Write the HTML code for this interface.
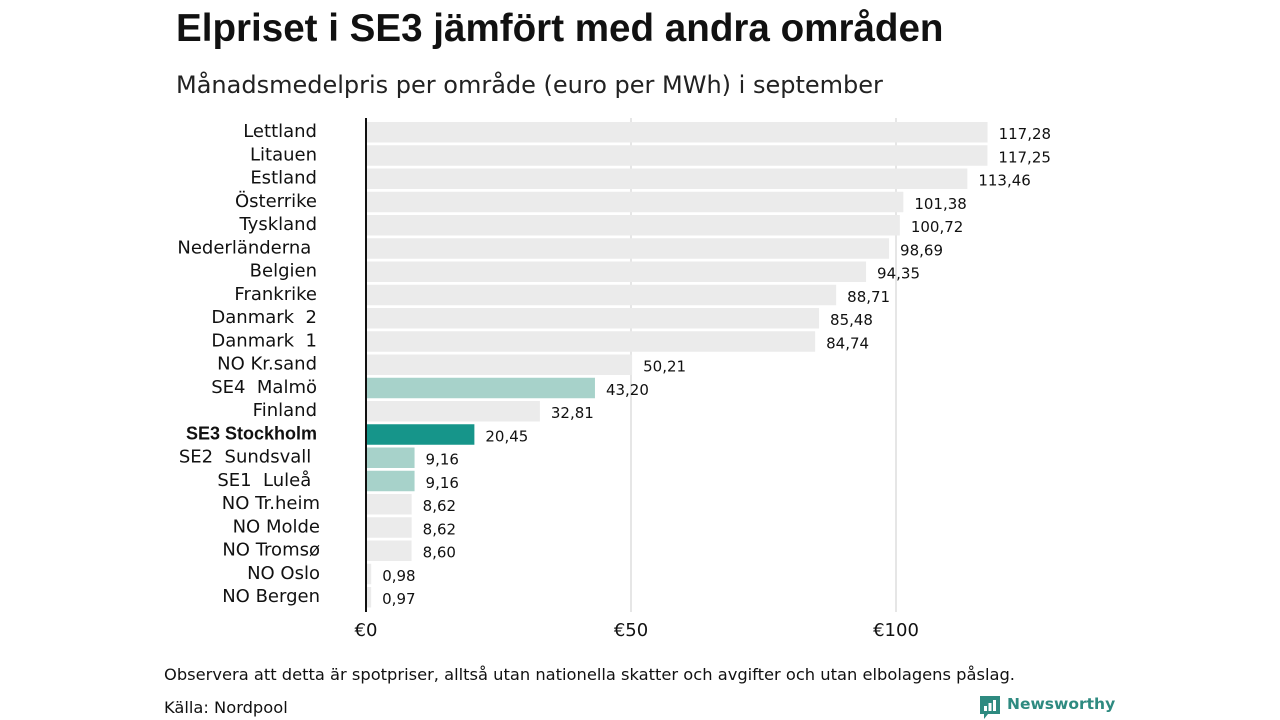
<!DOCTYPE html>
<html><head><meta charset="utf-8"><style>
body{margin:0;background:#fff;font-family:"DejaVu Sans","Liberation Sans",sans-serif;}
#wrap{position:relative;width:1280px;height:720px;overflow:hidden;}
.t{position:absolute;white-space:nowrap;color:#111;}
text{white-space:pre;}
</style></head><body><div id="wrap">
<div class="t" style="left:176px;top:7px;font-size:38.6px;font-weight:bold;font-family:'Liberation Sans',sans-serif;">Elpriset i SE3 jämfört med andra områden</div>
<div class="t" style="left:176px;top:71px;font-size:24px;color:#222;">Månadsmedelpris per område (euro per MWh) i september</div>
<svg id="chart" width="1280" height="720" style="position:absolute;left:0;top:0;"></svg>
<div class="t" style="left:164px;top:665px;font-size:16.3px;">Observera att detta är spotpriser, alltså utan nationella skatter och avgifter och utan elbolagens påslag.</div>
<div class="t" style="left:164px;top:698px;font-size:16.3px;">Källa: Nordpool</div>
<div style="position:absolute;left:979px;top:695px;">
<svg width="22" height="26" style="position:absolute;left:0;top:0"><path d="M1 1h20v18H9l-4 5v-5H1z" fill="#2e8a80"/><rect x="5" y="11" width="3" height="5" fill="#fff"/><rect x="9.5" y="8" width="3" height="8" fill="#fff"/><rect x="14" y="5" width="3" height="11" fill="#fff"/></svg>
<div class="t" style="left:28px;top:0px;font-size:15.5px;font-weight:bold;color:#2e8a80;">Newsworthy</div></div>
</div>
<script>
const categories=["Lettland","Litauen","Estland","Österrike","Tyskland","Nederländerna ","Belgien","Frankrike","Danmark  2","Danmark  1","NO Kr.sand","SE4  Malmö","Finland","SE3 Stockholm","SE2  Sundsvall ","SE1  Luleå ","NO Tr.heim","NO Molde","NO Tromsø","NO Oslo","NO Bergen"];
const values=[117.28,117.25,113.46,101.38,100.72,98.69,94.35,88.71,85.48,84.74,50.21,43.20,32.81,20.45,9.16,9.16,8.62,8.62,8.60,0.98,0.97];
const highlight=["","","","","","","","","","","","light","","dark","light","light","","","","",""];
const ticks=[0,50,100];
const svg=document.getElementById('chart');const NS="http://www.w3.org/2000/svg";
const x=v=>366+v*5.3;const y=i=>122+i*23.25;
function mk(t,a){const e=document.createElementNS(NS,t);for(const k in a)e.setAttribute(k,a[k]);svg.appendChild(e);return e;}
ticks.forEach(t=>{if(t>0){const g=mk('line',{x1:x(t),x2:x(t),y1:118,y2:612,stroke:'#ccc','stroke-width':1});

}
const l=mk('text',{x:x(t),y:636,'text-anchor':'middle','font-size':18,fill:'#111','font-family':'DejaVu Sans, sans-serif'});l.textContent='€'+t;

});
categories.forEach((c,i)=>{const col=highlight[i]=='dark'?'#16958a':highlight[i]=='light'?'#a7d2ca':'#ebebeb';
const r=mk('rect',{x:x(0),y:y(i),width:x(values[i])-x(0),height:20.5,fill:col});


const lb=mk('text',{x:i>=16?320:317,y:y(i)+15,'text-anchor':'end','font-size':18,fill:'#111','font-family':highlight[i]=='dark'?'Liberation Sans, sans-serif':'DejaVu Sans, sans-serif','font-weight':highlight[i]=='dark'?'bold':'normal'});lb.textContent=c;


const v=mk('text',{x:x(values[i])+11,y:y(i)+17,'font-size':15,fill:'#111','font-family':'DejaVu Sans, sans-serif'});v.textContent=values[i].toFixed(2).replace('.',',');

});
const ax=mk('line',{x1:366,x2:366,y1:118,y2:612,stroke:'#111','stroke-width':2});


</script></body></html>
